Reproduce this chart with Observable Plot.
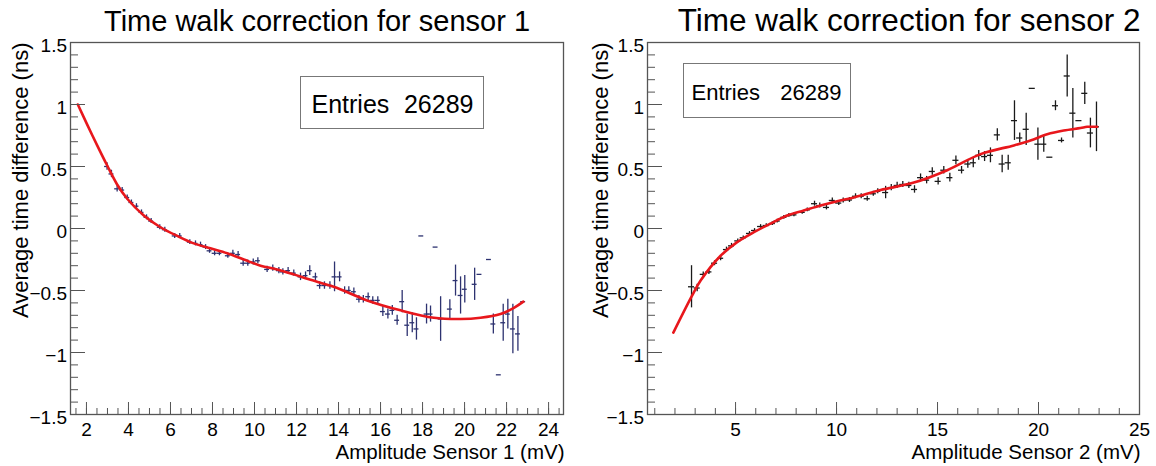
<!DOCTYPE html>
<html><head><meta charset="utf-8">
<script src="https://cdn.jsdelivr.net/npm/d3@7"></script>
<script src="https://cdn.jsdelivr.net/npm/@observablehq/plot@0.6"></script>
<style>
body{margin:0;background:#fff}
#wrap{position:relative;width:1156px;height:466px;background:#fff;overflow:hidden;font-family:"Liberation Sans",Arial,sans-serif}
.panel{position:absolute;top:0}
.stat{position:absolute;border:1.5px solid #777;box-sizing:border-box}
</style></head><body>
<div id="wrap">
 <div class="panel" id="p1" style="left:0"></div>
 <div class="panel" id="p2" style="left:578px"></div>
 <div class="stat" style="left:300px;top:76px;width:184px;height:53px"></div>
 <div class="stat" style="left:683px;top:63px;width:168px;height:55px"></div>
</div>
<script>
// ---------- Sensor 1 data ----------
const s1X = [2.98,3.19,3.46,3.70,3.94,4.14,4.38,4.62,4.86,5.08,5.49,5.73,6.20,6.44,6.92,7.19,7.43,7.67,7.86,8.10,8.33,8.73,8.97,9.22,9.46,9.68,9.94,10.16,10.60,10.87,11.16,11.35,11.60,11.87,12.19,12.43,12.63,12.90,13.10,13.33,13.59,13.81,14.05,14.29,14.49,14.73,14.97,15.18,15.41,15.63,15.87,16.11,16.35,16.56,16.79,17.03,17.27,17.51,17.71,17.94,18.19,18.38,18.62,18.86,19.30,19.57,19.81,20.01,20.48,20.71,21.16,21.37,21.63,21.84,22.06,22.30,22.54,22.79];
const s1Y = [0.50,0.44,0.32,0.31,0.25,0.21,0.18,0.13,0.09,0.06,0.01,-0.01,-0.06,-0.06,-0.11,-0.12,-0.13,-0.15,-0.18,-0.20,-0.20,-0.22,-0.20,-0.21,-0.28,-0.28,-0.27,-0.26,-0.33,-0.32,-0.34,-0.35,-0.34,-0.36,-0.39,-0.38,-0.34,-0.39,-0.46,-0.46,-0.46,-0.39,-0.39,-0.50,-0.50,-0.51,-0.57,-0.57,-0.55,-0.58,-0.58,-0.67,-0.69,-0.66,-0.74,-0.59,-0.78,-0.76,-0.81,-0.06,-0.69,-0.69,-0.15,-0.73,-0.65,-0.42,-0.54,-0.49,-0.45,-0.37,-0.25,-0.77,-1.18,-0.76,-0.69,-0.81,-0.85,-0.59];
const s1Err = [0.03,0.03,0.025,0.02,0.02,0.02,0.02,0.02,0.02,0.02,0.02,0.02,0.02,0.02,0.02,0.02,0.02,0.02,0.02,0.02,0.02,0.02,0.025,0.025,0.025,0.025,0.025,0.025,0.025,0.025,0.025,0.025,0.025,0.025,0.03,0.03,0.04,0.03,0.03,0.03,0.03,0.12,0.04,0.03,0.03,0.03,0.03,0.03,0.03,0.03,0.03,0.04,0.04,0.04,0.04,0.09,0.09,0.08,0.09,0,0.08,0.065,0,0.18,0.075,0.125,0.15,0.11,0.13,0,0,0.08,0,0.15,0.12,0.2,0.14,0];
const s1FitX = [1.59,2.03,2.51,2.98,3.46,3.94,4.73,5.52,6.32,7.11,7.90,8.70,9.49,10.29,11.08,11.87,12.59,13.77,15.36,16.95,18.54,19.81,20.76,21.71,22.35,22.80];
const s1FitY = [1.00,0.84,0.67,0.51,0.355,0.24,0.105,0.01,-0.06,-0.12,-0.16,-0.20,-0.25,-0.30,-0.33,-0.37,-0.41,-0.47,-0.58,-0.66,-0.72,-0.73,-0.72,-0.69,-0.64,-0.59];
const s1HalfBin = 0.117;
const s1XDomain = [1.24, 24.71];
const s1XTicks = [2,4,6,8,10,12,14,16,18,20,22,24];

// ---------- Sensor 2 data ----------
const s2X = [2.82,3.10,3.40,3.68,3.96,4.26,4.55,4.80,5.11,5.38,5.69,5.94,6.24,6.52,6.82,7.06,7.39,7.64,7.89,8.30,8.55,8.91,9.17,9.50,9.79,10.11,10.33,10.64,10.94,11.22,11.52,11.82,12.04,12.43,12.71,13.00,13.28,13.58,13.86,14.16,14.46,14.74,15.03,15.31,15.61,15.91,16.19,16.50,16.77,17.04,17.33,17.62,17.96,18.20,18.50,18.81,19.07,19.39,19.69,19.97,20.26,20.56,20.84,21.14,21.42,21.70,22.00,22.29,22.57,22.87];
const s2Y = [-0.47,-0.48,-0.37,-0.35,-0.28,-0.24,-0.17,-0.14,-0.10,-0.075,-0.04,-0.016,0.016,0.024,0.04,0.06,0.09,0.105,0.11,0.13,0.15,0.20,0.185,0.17,0.226,0.205,0.226,0.23,0.26,0.26,0.24,0.28,0.30,0.29,0.33,0.347,0.355,0.347,0.315,0.41,0.39,0.46,0.38,0.47,0.41,0.55,0.47,0.52,0.53,0.59,0.58,0.59,0.755,0.52,0.53,0.87,0.73,0.80,1.13,0.68,0.68,0.575,0.99,0.71,1.23,0.93,0.87,1.09,0.77,0.82];
const s2Err = [0.17,0.03,0.02,0.02,0.02,0.02,0.02,0.02,0.015,0.015,0.015,0.015,0.015,0.015,0.015,0.015,0.015,0.015,0.015,0.015,0.015,0.02,0.02,0.02,0.02,0.02,0.02,0.02,0.02,0.02,0.02,0.02,0.02,0.05,0.025,0.025,0.025,0.025,0.03,0.03,0.03,0.03,0.03,0.03,0.035,0.035,0.03,0.035,0.04,0.04,0.04,0.06,0.05,0.07,0.06,0.16,0.04,0.13,0,0.13,0.065,0,0.04,0.02,0.17,0.2,0,0.09,0.12,0.2];
const s2FitX = [1.92,2.82,3.27,4.26,5.08,5.91,6.73,7.56,8.38,9.21,10.03,10.86,12.18,13.83,15.48,17.13,18.78,19.60,20.43,21.25,22.08,22.41,22.90];
const s2FitY = [-0.84,-0.55,-0.42,-0.22,-0.11,-0.03,0.04,0.105,0.145,0.185,0.22,0.25,0.31,0.37,0.47,0.60,0.67,0.71,0.76,0.79,0.81,0.82,0.82];
const s2HalfBin = 0.15;
const s2XDomain = [0.64, 25];
const s2XTicks = [5,10,15,20,25];

// shared y axis
const yTicks = [-1.5,-1,-0.5,0,0.5,1,1.5];
const entries = "26289";

const fmt = d => d < 0 ? "\u2212" + Math.abs(d) : String(d);
const axisColor = "#555";
const font = '"Liberation Sans", Arial, sans-serif';

function panel(o) {
  const pts = o.xs.map((x, i) => ({x, y: o.ys[i], e: o.err[i]}));
  const fit = o.fx.map((x, i) => ({x, y: o.fy[i]}));
  const yMinor = d3.range(-15, 16).map(i => i / 10);
  const xMinor = d3.range(Math.ceil(o.xDomain[0] / o.minorStep), Math.floor(o.xDomain[1] / o.minorStep) + 1).map(i => i * o.minorStep);
  return Plot.plot({
    width: 578, height: 466,
    marginLeft: o.mLeft, marginRight: o.mRight, marginTop: 42, marginBottom: 52,
    x: {domain: o.xDomain},
    y: {domain: [-1.5, 1.5]},
    style: {fontFamily: font, fontSize: "19px", color: "#000", background: "transparent", overflow: "visible"},
    marks: [
      Plot.ruleX(pts, {x: "x", y1: d => d.y - d.e, y2: d => d.y + d.e, stroke: o.color, strokeWidth: 1.3}),
      Plot.ruleY(pts, {y: "y", x1: d => d.x - o.halfBin, x2: d => d.x + o.halfBin, stroke: o.color, strokeWidth: 1.3}),
      Plot.line(fit, {x: "x", y: "y", stroke: "#e8171c", strokeWidth: 2.6, curve: "catmull-rom"}),
      Plot.axisY({ticks: yMinor, tickSize: -8, fill: "none", stroke: axisColor, label: null}),
      Plot.axisY({ticks: yTicks, tickSize: -15, fill: "none", stroke: axisColor, label: null}),
      Plot.axisY({ticks: yTicks, tickSize: 0, tickPadding: 3.5, dy: 3, tickFormat: fmt, fill: "#000", label: null}),
      Plot.axisX({ticks: xMinor, tickSize: -6, fill: "none", stroke: axisColor, label: null}),
      Plot.axisX({ticks: o.xTicks, tickSize: -12, fill: "none", stroke: axisColor, label: null}),
      Plot.axisX({ticks: o.xTicks, tickSize: 0, tickPadding: 8, tickFormat: fmt, fill: "#000", label: null}),
      Plot.frame({stroke: axisColor, strokeWidth: 1.3}),
      Plot.text([o.title], {text: d => d, frameAnchor: o.titleAnchor, textAnchor: o.titleTextAnchor, lineAnchor: "bottom", dx: o.titleDx, dy: -12, fontSize: o.titleSize, fill: "#000"}),
      Plot.text([o.xLabel], {text: d => d, frameAnchor: "bottom-right", textAnchor: "end", lineAnchor: "bottom", dx: 1, dy: 44, fontSize: 20.5, fill: "#000"}),
      Plot.text(["Average time difference (ns)"], {text: d => d, frameAnchor: "top-left", textAnchor: "end", lineAnchor: "bottom", rotate: -90, dx: o.yLabelDx, dy: 0, fontSize: 22, fill: "#000"}),
      Plot.text(["Entries"], {text: d => d, frameAnchor: "top-left", textAnchor: "start", lineAnchor: "bottom", dx: o.statDx1, dy: o.statDy, fontSize: o.statSize, fill: "#000"}),
      Plot.text([entries], {text: d => d, frameAnchor: "top-left", textAnchor: "end", lineAnchor: "bottom", dx: o.statDx2, dy: o.statDy, fontSize: o.statSize, fill: "#000"})
    ]
  });
}

document.getElementById("p1").append(panel({
  xs: s1X, ys: s1Y, err: s1Err, fx: s1FitX, fy: s1FitY, halfBin: s1HalfBin,
  xDomain: s1XDomain, xTicks: s1XTicks, minorStep: 0.5,
  mLeft: 70, mRight: 15, color: "#2d3270",
  title: "Time walk correction for sensor 1", titleSize: 29, titleAnchor: "top", titleTextAnchor: "middle", titleDx: 0,
  xLabel: "Amplitude Sensor 1 (mV)", yLabelDx: -43,
  statSize: 25, statDx1: 241, statDx2: 403, statDy: 70
}));
document.getElementById("p2").append(panel({
  xs: s2X, ys: s2Y, err: s2Err, fx: s2FitX, fy: s2FitY, halfBin: s2HalfBin,
  xDomain: s2XDomain, xTicks: s2XTicks, minorStep: 1,
  mLeft: 69, mRight: 17, color: "#1a1a1a",
  title: "Time walk correction for sensor 2", titleSize: 31.5, titleAnchor: "top-right", titleTextAnchor: "end", titleDx: 1,
  xLabel: "Amplitude Sensor 2 (mV)", yLabelDx: -40,
  statSize: 22, statDx1: 44, statDx2: 194, statDy: 57
}));
</script>
</body></html>
